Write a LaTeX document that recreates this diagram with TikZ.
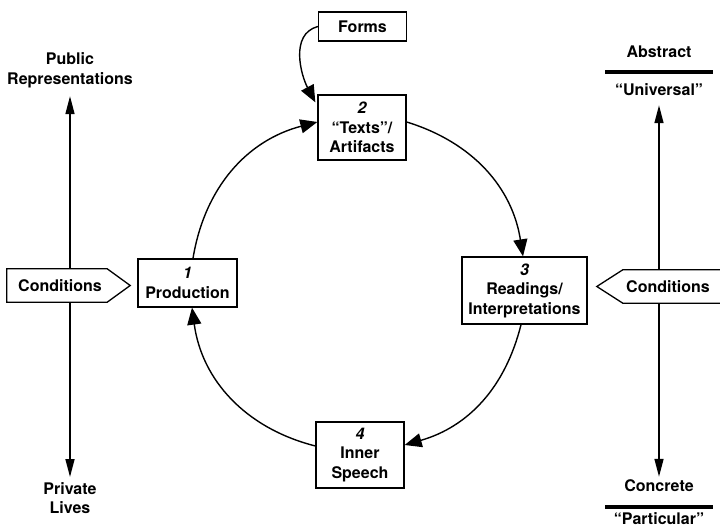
\documentclass[tikz,border=0pt]{standalone}
\usepackage{fontspec}
\setmainfont{TeX Gyre Heros}
\usetikzlibrary{arrows.meta,calc}
\begin{document}
\begin{tikzpicture}[x=1pt,y=1pt,
  txt/.style={font=\bfseries\fontsize{16}{19.5}\selectfont},
  box/.style={txt, draw, line width=1.3pt, fill=white, inner sep=0pt, align=center},
  lbl/.style={txt, inner sep=0pt, align=center},
  cyc/.style={line width=1.4pt, -{Triangle[length=17pt,width=14pt]}},
  axis/.style={line width=1.6pt, {Triangle[length=18pt,width=9pt]}-{Triangle[length=18pt,width=9pt]}},
  bar/.style={line width=3.5pt}]
\useasboundingbox (0,0) rectangle (720,529);
% cycle boxes
\node[box, minimum width=88pt, minimum height=29pt] (forms) at (362.5,502.5) {Forms};
\node[box, minimum width=88pt, minimum height=65pt] (p2) at (362,401.5) {\itshape 2\\“Texts”/\\Artifacts};
\node[box, minimum width=99pt, minimum height=48pt] (p1) at (187.5,246) {\itshape 1\\Production};
\node[box, minimum width=125pt, minimum height=67pt] (p3) at (524.5,238.5) {\itshape 3\\Readings/\\Interpretations};
\node[box, minimum width=88pt, minimum height=66pt] (p4) at (360,74) {\itshape 4\\Inner\\Speech};
% cycle arcs
\draw[cyc] ($(p1.north)+(5.5,0)$) to[bend left=33] ($(p2.west)+(0,5.5)$);
\draw[cyc] ($(p2.east)+(0,5.5)$) to[bend left=32] ($(p3.north)+(-1.5,0)$);
\draw[cyc] ($(p3.south)+(-3.5,0)$) to[bend left=30] ($(p4.east)+(0,10)$);
\draw[cyc] ($(p4.west)+(0,9)$) to[bend left=34] ($(p1.south)+(4.5,0)$);
\draw[cyc] (forms.west) to[out=195,in=118] ($(p2.north west)+(-2,-8)$);
% left axis
\node[lbl] (pub) at (70,458.5) {Public\\Representations};
\node[lbl] (priv) at (70,31) {Private\\Lives};
\draw[axis, shorten <=8pt, shorten >=5pt] (pub.south) -- (priv.north);
\node[inner sep=0pt, minimum width=100pt, minimum height=33pt] (cl) at (57,243.5) {};
\draw[line width=1.3pt, fill=white] (cl.north west) -- (cl.north east) -- ($(cl.east)+(23,0)$) -- (cl.south east) -- (cl.south west) -- cycle;
\node[lbl] at ($(cl)+(3,0)$) {Conditions};
% right axis
\node[lbl] (abs) at (659,477) {Abstract};
\node[lbl] (univ) at (659,439) {“Universal”};
\node[lbl] (conc) at (659,43) {Concrete};
\node[lbl] (part) at (659,10) {“Particular”};
\draw[bar] ($(abs.south)+(-54,-14)$) -- ++(108,0);
\draw[bar] ($(conc.south)+(-54,-15)$) -- ++(108,0);
\draw[axis, shorten <=9pt, shorten >=3pt] (univ.south) -- (conc.north);
\node[inner sep=0pt, minimum width=98pt, minimum height=33pt] (cr) at (672,242.5) {};
\draw[line width=1.3pt, fill=white] (cr.north east) -- (cr.north west) -- ($(cr.west)+(-26,0)$) -- (cr.south west) -- (cr.south east) -- cycle;
\node[lbl] at ($(cr)+(-4,0)$) {Conditions};
\end{tikzpicture}
\end{document}
